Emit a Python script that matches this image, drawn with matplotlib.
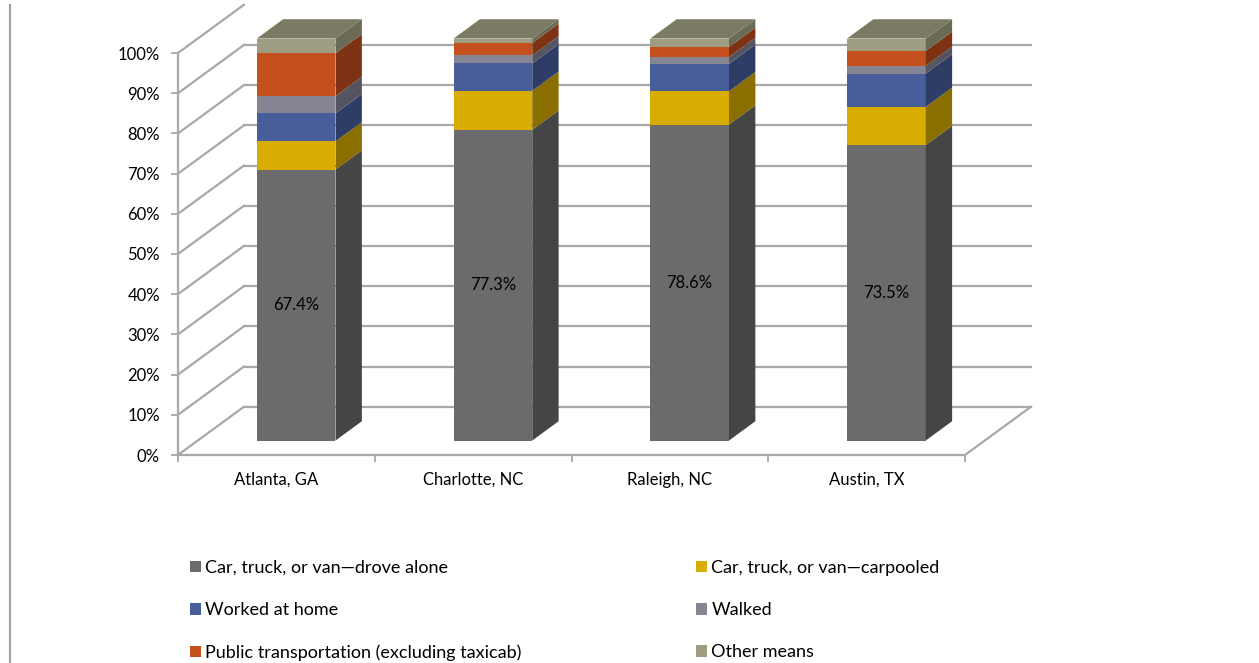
import matplotlib.pyplot as plt
from matplotlib.patches import Polygon, Patch
from matplotlib.lines import Line2D
import numpy as np

plt.rcParams['font.family'] = ['Lato', 'DejaVu Sans']

# Data
cities = ['Atlanta, GA', 'Charlotte, NC', 'Raleigh, NC', 'Austin, TX']
modes = ['Car, truck, or van\u2014drove alone', 'Car, truck, or van\u2014carpooled',
         'Worked at home', 'Walked', 'Public transportation (excluding taxicab)',
         'Other means']
drove_alone = [67.4, 77.3, 78.6, 73.5]
carpooled = [7.0, 9.7, 8.3, 9.5]
worked_home = [7.0, 6.8, 6.8, 8.3]
walked = [4.3, 2.0, 1.7, 1.9]
public = [10.6, 3.1, 2.5, 3.7]
other = [3.7, 1.1, 2.1, 3.1]
series = [drove_alone, carpooled, worked_home, walked, public, other]

front_cols = ['#6b6b6b', '#d8ac00', '#475e9b', '#858594', '#c4501e', '#9e9d82']
side_cols = ['#454545', '#8a6e00', '#2d3d66', '#555562', '#7d3313', '#6b6a55']
top_col = '#7b7a62'
grid_col = '#a8a8a8'

# oblique projection: depth z in [0, 1]
DX, DY = 0.335, 12.0
def proj(x, y, z):
    return x + z * DX, y + z * DY

fig = plt.figure(figsize=(12.59, 6.63), dpi=100)
ax = fig.add_axes([178 / 1259, 1 - 455 / 663, 787 / 1259, 402 / 663])
ax.set_xlim(-0.5, 3.5)
ax.set_ylim(0, 100)

# back wall gridlines and side wall
for v in range(0, 100, 10):
    p0, p1 = proj(-0.5, v, 1), proj(3.5, v, 1)
    ax.plot([p0[0], p1[0]], [p0[1], p1[1]], color=grid_col, lw=1.6, clip_on=False, zorder=1)
for v in range(0, 101, 10):
    p0, p1 = proj(-0.5, v, 0), proj(-0.5, v, 1)
    ax.plot([p0[0], p1[0]], [p0[1], p1[1]], color=grid_col, lw=1.6, clip_on=False, zorder=1)
p0, p1 = proj(3.5, 0, 0), proj(3.5, 0, 1)
ax.plot([p0[0], p1[0]], [p0[1], p1[1]], color=grid_col, lw=1.6, clip_on=False, zorder=1)

# bars
w = 0.4
z0, z1 = 0.30, 0.70
for i in range(len(cities)):
    base = 0
    for k, vals in enumerate(series):
        v = vals[i]
        xl, xr = i - w / 2, i + w / 2
        front = [proj(xl, base, z0), proj(xr, base, z0), proj(xr, base + v, z0), proj(xl, base + v, z0)]
        side = [proj(xr, base, z0), proj(xr, base, z1), proj(xr, base + v, z1), proj(xr, base + v, z0)]
        ax.add_patch(Polygon(front, closed=True, facecolor=front_cols[k], edgecolor='none', clip_on=False, zorder=3))
        ax.add_patch(Polygon(side, closed=True, facecolor=side_cols[k], edgecolor='none', clip_on=False, zorder=3))
        base += v
    top = [proj(xl, base, z0), proj(xr, base, z0), proj(xr, base, z1), proj(xl, base, z1)]
    ax.add_patch(Polygon(top, closed=True, facecolor=top_col, edgecolor='none', clip_on=False, zorder=3))
    lx, ly = proj(i, drove_alone[i] / 2, z0)
    ax.text(lx, ly, f'{drove_alone[i]:.1f}%', ha='center', va='center', fontsize=12, zorder=5)

# axes styling
for s in ['top', 'right']:
    ax.spines[s].set_visible(False)
for s in ['left', 'bottom']:
    ax.spines[s].set_color(grid_col)
    ax.spines[s].set_linewidth(1.6)
ax.set_yticks(np.arange(0, 101, 10))
ax.set_yticklabels([f'{v}%' for v in range(0, 101, 10)])
ax.set_xticks(range(len(cities)))
ax.set_xticklabels(cities)
ax.set_xticks(np.arange(-0.5, 4, 1), minor=True)
ax.tick_params(axis='y', length=5, width=1.3, color=grid_col, labelsize=12, pad=8)
ax.tick_params(axis='x', which='major', length=0, labelsize=12, pad=12)
ax.tick_params(axis='x', which='minor', length=5, width=1.3, color=grid_col)
ax.patch.set_alpha(0)

# legend, two columns placed separately
handles = [Patch(facecolor=c, edgecolor='none') for c in front_cols]
order1, order2 = [0, 2, 4], [1, 3, 5]
leg_kw = dict(frameon=False, fontsize=13, handlelength=0.6, handleheight=0.6,
              handletextpad=0.25, labelspacing=1.45, loc='upper left', borderaxespad=0, borderpad=0)
l1 = fig.legend([handles[k] for k in order1], [modes[k] for k in order1],
                bbox_to_anchor=(190 / 1259, 1 - 560 / 663), **leg_kw)
l2 = fig.legend([handles[k] for k in order2], [modes[k] for k in order2],
                bbox_to_anchor=(696 / 1259, 1 - 560 / 663), **leg_kw)

# chart border on the left
fig.add_artist(Line2D([10.5 / 1259, 10.5 / 1259], [0, 1 - 5 / 663], color='#a0a0a0', lw=1.5))

fig.savefig('out.png', dpi=100)
